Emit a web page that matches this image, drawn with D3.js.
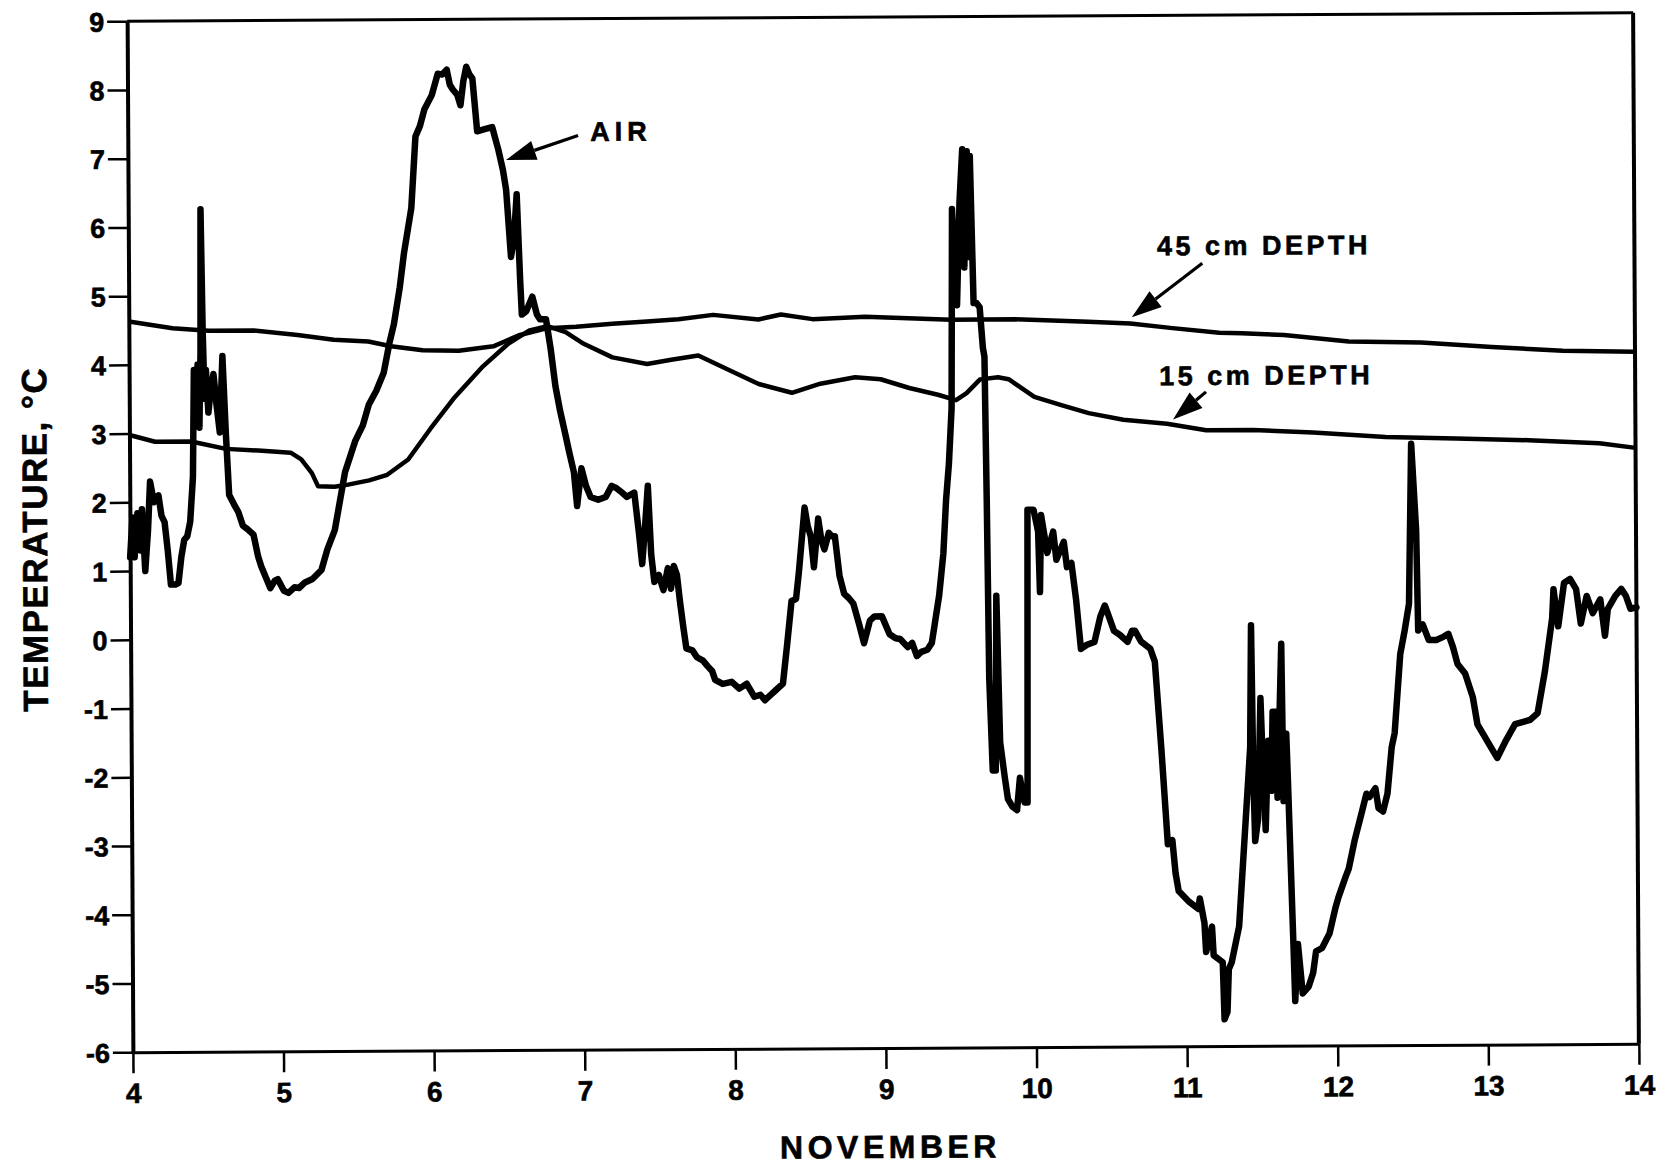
<!DOCTYPE html>
<html>
<head>
<meta charset="utf-8">
<script src="https://cdn.jsdelivr.net/npm/d3@7"></script>
<style>
  html, body { margin: 0; padding: 0; background: #fff; }
  svg { display: block; }
  text { font-family: "Liberation Sans", Arial, Helvetica, sans-serif; font-weight: bold; fill: #000;
         stroke: #000; stroke-width: 0.6px; }
</style>
</head>
<body>
<svg id="chart" width="1660" height="1168"></svg>
<script>
// Axis ticks
const dayTicks = [4, 5, 6, 7, 8, 9, 10, 11, 12, 13, 14];
const tempTicks = [-6, -5, -4, -3, -2, -1, 0, 1, 2, 3, 4, 5, 6, 7, 8, 9];

// Air temperature, [day of November, °C]
const airTemp = [
  [4.00,1.2],[4.017,1.78],[4.03,1.2],[4.05,1.84],[4.07,1.3],[4.08,1.9],[4.10,1.0],[4.12,1.6],
  [4.135,2.30],[4.16,2.0],[4.19,2.10],[4.21,1.8],[4.23,1.71],[4.25,1.3],[4.27,0.80],[4.30,0.80],
  [4.32,0.82],[4.34,1.2],[4.36,1.45],[4.38,1.5],[4.40,1.71],[4.42,2.36],[4.43,3.92],[4.445,3.2],
  [4.455,4.0],[4.465,3.08],[4.475,4.2],[4.48,6.26],[4.49,4.5],[4.50,3.5],[4.51,3.92],[4.525,3.3],
  [4.54,3.60],[4.56,3.86],[4.58,3.4],[4.60,3.01],[4.62,4.12],[4.64,3.0],[4.66,2.10],[4.69,1.97],
  [4.72,1.85],[4.75,1.65],[4.78,1.6],[4.82,1.52],[4.85,1.2],[4.87,1.06],[4.90,0.9],[4.93,0.74],
  [4.96,0.85],[4.98,0.87],[5.02,0.70],[5.05,0.67],[5.09,0.75],[5.12,0.74],[5.16,0.82],[5.21,0.87],
  [5.27,1.0],[5.31,1.3],[5.36,1.58],[5.43,2.42],[5.50,2.88],[5.55,3.1],[5.59,3.40],[5.64,3.6],
  [5.69,3.86],[5.73,4.3],[5.76,4.57],[5.80,5.1],[5.83,5.61],[5.88,6.26],[5.91,7.30],[5.94,7.45],
  [5.97,7.69],[6.02,7.9],[6.06,8.21],[6.09,8.2],[6.12,8.27],[6.14,8.05],[6.16,7.98],[6.19,7.9],
  [6.21,7.75],[6.23,8.1],[6.25,8.31],[6.27,8.2],[6.29,8.14],[6.32,7.37],[6.37,7.40],[6.42,7.43],
  [6.46,7.10],[6.49,6.8],[6.51,6.52],[6.54,5.54],[6.56,5.8],[6.58,6.45],[6.60,5.2],[6.61,4.70],
  [6.64,4.75],[6.68,4.96],[6.71,4.7],[6.73,4.63],[6.77,4.63],[6.80,4.2],[6.83,3.66],[6.86,3.3],
  [6.89,3.0],[6.92,2.69],[6.95,2.4],[6.97,1.91],[7.00,2.46],[7.03,2.2],[7.06,2.04],[7.11,2.0],
  [7.16,2.04],[7.20,2.2],[7.23,2.17],[7.27,2.1],[7.30,2.04],[7.35,2.10],[7.38,1.5],[7.40,1.06],
  [7.42,1.6],[7.44,2.2],[7.46,1.2],[7.48,0.80],[7.51,0.9],[7.54,0.68],[7.57,1.0],[7.59,0.7],
  [7.61,1.03],[7.63,0.9],[7.65,0.5],[7.67,0.15],[7.69,-0.17],[7.73,-0.2],[7.76,-0.30],[7.80,-0.35],
  [7.83,-0.43],[7.86,-0.5],[7.88,-0.63],[7.93,-0.69],[7.99,-0.66],[8.04,-0.76],[8.09,-0.69],[8.14,-0.88],
  [8.18,-0.85],[8.21,-0.93],[8.25,-0.85],[8.28,-0.79],[8.33,-0.69],[8.36,-0.11],[8.39,0.51],[8.42,0.54],
  [8.44,0.93],[8.48,1.87],[8.50,1.6],[8.52,1.45],[8.54,1.0],[8.57,1.71],[8.59,1.4],[8.61,1.26],
  [8.64,1.5],[8.66,1.45],[8.68,1.45],[8.71,0.87],[8.74,0.61],[8.77,0.55],[8.80,0.47],[8.84,0.15],
  [8.87,-0.11],[8.91,0.22],[8.94,0.28],[8.99,0.28],[9.04,0.02],[9.08,-0.04],[9.11,-0.05],[9.16,-0.17],
  [9.19,-0.11],[9.22,-0.30],[9.25,-0.24],[9.29,-0.21],[9.32,-0.11],[9.35,0.3],[9.37,0.57],[9.40,1.19],
  [9.42,1.97],[9.44,2.49],[9.46,3.3],[9.47,6.2],[9.48,5.6],[9.49,6.0],[9.50,4.8],[9.52,6.3],
  [9.54,7.07],[9.55,5.35],[9.56,6.5],[9.57,7.04],[9.58,5.5],[9.59,6.97],[9.61,4.83],[9.63,4.83],
  [9.65,4.77],[9.67,4.18],[9.68,4.05],[9.69,1.97],[9.70,-0.63],[9.72,-1.97],[9.74,-1.97],[9.75,0.57],
  [9.77,-1.56],[9.80,-2.08],[9.82,-2.39],[9.85,-2.5],[9.88,-2.55],[9.90,-2.08],[9.93,-2.44],[9.95,-2.44],
  [9.96,1.82],[10.00,1.82],[10.03,1.5],[10.04,0.62],[10.05,1.74],[10.09,1.19],[10.13,1.5],[10.15,1.09],
  [10.20,1.35],[10.22,0.98],[10.25,1.04],[10.28,0.5],[10.31,-0.21],[10.35,-0.15],[10.40,-0.11],[10.44,0.26],
  [10.47,0.42],[10.49,0.30],[10.53,0.05],[10.57,-0.01],[10.62,-0.11],[10.65,0.05],[10.67,0.05],[10.71,-0.11],
  [10.77,-0.21],[10.80,-0.40],[10.84,-1.66],[10.88,-3.06],[10.91,-3.0],[10.93,-3.48],[10.95,-3.74],[11.02,-3.90],
  [11.08,-4.0],[11.09,-3.85],[11.12,-4.21],[11.13,-4.63],[11.17,-4.26],[11.18,-4.68],[11.24,-4.78],[11.25,-5.61],
  [11.27,-5.5],[11.28,-4.88],[11.30,-4.78],[11.35,-4.26],[11.39,-2.96],[11.43,-1.66],[11.44,0.12],[11.45,-2.08],
  [11.46,-3.02],[11.48,-2.70],[11.50,-0.94],[11.51,-1.66],[11.53,-2.86],[11.55,-1.56],[11.57,-2.29],[11.58,-1.14],
  [11.60,-1.14],[11.61,-2.39],[11.64,-0.15],[11.65,-2.44],[11.67,-1.46],[11.68,-2.18],[11.71,-4.52],[11.72,-5.35],
  [11.74,-4.52],[11.77,-5.24],[11.81,-5.14],[11.84,-4.94],[11.86,-4.63],[11.90,-4.58],[11.95,-4.37],[11.99,-4.0],
  [12.01,-3.85],[12.06,-3.54],[12.08,-3.43],[12.12,-3.02],[12.17,-2.60],[12.20,-2.34],[12.22,-2.39],[12.26,-2.26],
  [12.28,-2.55],[12.31,-2.60],[12.34,-2.34],[12.37,-1.66],[12.39,-1.46],[12.43,-0.31],[12.46,0.03],[12.49,0.42],
  [12.51,2.75],[12.54,1.49],[12.55,0.03],[12.58,0.12],[12.62,-0.11],[12.67,-0.11],[12.72,-0.06],[12.75,-0.02],
  [12.78,-0.21],[12.81,-0.46],[12.86,-0.60],[12.91,-0.94],[12.94,-1.34],[13.03,-1.68],[13.07,-1.83],[13.13,-1.57],
  [13.19,-1.34],[13.29,-1.28],[13.34,-1.18],[13.39,-0.57],[13.44,0.2],[13.45,0.62],[13.48,0.08],[13.52,0.71],
  [13.56,0.77],[13.60,0.62],[13.63,0.12],[13.67,0.52],[13.71,0.27],[13.76,0.47],[13.79,-0.06],[13.81,0.33],
  [13.86,0.52],[13.90,0.62],[13.93,0.52],[13.96,0.33],[14.00,0.35]
];

// Soil temperature at 15 cm depth
const depth15 = [
  [4.00,2.98],[4.17,2.88],[4.41,2.88],[4.64,2.77],[4.88,2.74],[5.07,2.71],[5.14,2.61],[5.21,2.41],
  [5.25,2.22],[5.36,2.21],[5.45,2.24],[5.59,2.30],[5.71,2.38],[5.85,2.60],[6.00,3.05],[6.16,3.50],
  [6.35,3.95],[6.52,4.28],[6.66,4.47],[6.78,4.53],[6.90,4.44],[7.02,4.27],[7.21,4.07],[7.44,3.97],
  [7.60,4.03],[7.78,4.09],[7.99,3.87],[8.18,3.67],[8.40,3.54],[8.59,3.67],[8.82,3.76],[8.99,3.73],
  [9.18,3.60],[9.37,3.50],[9.49,3.42],[9.56,3.52],[9.65,3.72],[9.77,3.75],[9.84,3.72],[10.01,3.46],
  [10.20,3.33],[10.37,3.22],[10.60,3.12],[10.89,3.06],[11.15,2.96],[11.46,2.96],[11.86,2.92],[12.34,2.85],
  [12.81,2.82],[13.29,2.79],[13.76,2.74],[14.00,2.67]
];

// Soil temperature at 45 cm depth
const depth45 = [
  [4.00,4.63],[4.29,4.53],[4.53,4.49],[4.83,4.49],[5.12,4.42],[5.36,4.35],[5.59,4.32],[5.74,4.25],
  [5.95,4.19],[6.19,4.18],[6.42,4.24],[6.59,4.40],[6.78,4.50],[6.97,4.52],[7.21,4.56],[7.44,4.59],
  [7.65,4.62],[7.88,4.68],[8.18,4.61],[8.33,4.68],[8.54,4.61],[8.89,4.64],[9.46,4.59],[9.89,4.59],
  [10.37,4.55],[10.65,4.52],[10.93,4.45],[11.24,4.38],[11.39,4.37],[11.67,4.34],[12.10,4.24],[12.58,4.22],
  [13.05,4.15],[13.52,4.09],[14.00,4.07]
];

// Series labels: text, label anchor (day, °C), arrow tail and arrow tip (day, °C)
const seriesLabels = ["AIR", "45 cm DEPTH", "15 cm DEPTH"];
const labelAnchors = [[7.07, 7.22], [10.83, 5.51], [10.84, 3.62]];
const arrowTails = [[6.99, 7.30], [11.13, 5.39], [11.15, 3.52]];
const arrowTips = [[6.51, 6.95], [10.66, 4.61], [10.93, 3.12]];

const svg = d3.select("#chart");
const W = 1660, H = 1168;
const margin = { left: 130, right: W - 1636, top: 17, bottom: H - 1048 };

const x = d3.scaleLinear().domain([4, 14]).range([margin.left, W - margin.right]);
const y = d3.scaleLinear().domain([-6, 9]).range([H - margin.bottom, margin.top]);

// whole figure sits slightly tilted on the page
const g = svg.append("g").attr("transform", "rotate(-0.32, 883, 532)");

// Frame: top and right edges
g.append("line").attr("x1", x(4)).attr("x2", x(14)).attr("y1", y(9)).attr("y2", y(9))
  .attr("stroke", "#000").attr("stroke-width", 3);
g.append("line").attr("x1", x(14)).attr("x2", x(14)).attr("y1", y(9)).attr("y2", y(-6))
  .attr("stroke", "#000").attr("stroke-width", 4);

// Y axis
const yAxis = g.append("g").attr("transform", `translate(${x(4)},0)`)
  .call(d3.axisLeft(y).tickValues(tempTicks).tickSize(20).tickSizeOuter(0).tickPadding(3)
    .tickFormat(d => String(d)));
yAxis.select(".domain").attr("stroke", "#000").attr("stroke-width", 4);
yAxis.selectAll(".tick line").attr("stroke", "#000").attr("stroke-width", 2.5);
yAxis.selectAll(".tick text").attr("font-size", 27).attr("font-family", null).attr("fill", "#000")
  .attr("dy", "0.36em");

// X axis
const xAxis = g.append("g").attr("transform", `translate(0,${y(-6)})`)
  .call(d3.axisBottom(x).tickValues(dayTicks).tickSize(21).tickSizeOuter(0).tickPadding(10)
    .tickFormat(d => String(d)));
xAxis.select(".domain").attr("stroke", "#000").attr("stroke-width", 3);
xAxis.selectAll(".tick line").attr("stroke", "#000").attr("stroke-width", 2.5);
xAxis.selectAll(".tick text").attr("font-size", 28).attr("font-family", null).attr("fill", "#000");

// Axis titles
g.append("text")
  .attr("transform", `translate(47,${(y(9) + y(-6)) / 2 + 2}) rotate(-90)`)
  .attr("text-anchor", "middle").attr("font-size", 35).attr("letter-spacing", 1.5)
  .text("TEMPERATURE, °C");
g.append("text")
  .attr("x", (x(4) + x(14)) / 2 + 4).attr("y", 1158)
  .attr("text-anchor", "middle").attr("font-size", 32).attr("letter-spacing", 4.5)
  .text("NOVEMBER");

// Series lines
const line = d3.line().x(d => x(d[0])).y(d => y(d[1]));
g.append("path").datum(depth45).attr("d", line)
  .attr("fill", "none").attr("stroke", "#000").attr("stroke-width", 4.5).attr("stroke-linejoin", "round");
g.append("path").datum(depth15).attr("d", line)
  .attr("fill", "none").attr("stroke", "#000").attr("stroke-width", 4.5).attr("stroke-linejoin", "round");
g.append("path").datum(airTemp).attr("d", line)
  .attr("fill", "none").attr("stroke", "#000").attr("stroke-width", 6.5)
  .attr("stroke-linejoin", "round").attr("stroke-linecap", "round");

// Labels with arrows
seriesLabels.forEach((label, i) => {
  const [lx, ly] = labelAnchors[i];
  g.append("text").attr("x", x(lx)).attr("y", y(ly))
    .attr("font-size", 27).attr("letter-spacing", i === 0 ? 5 : 3.5).text(label);

  const tx = x(arrowTails[i][0]), ty = y(arrowTails[i][1]);
  const px = x(arrowTips[i][0]), py = y(arrowTips[i][1]);
  const ang = Math.atan2(py - ty, px - tx);
  const headLen = 30, headHalf = 10;
  const bx = px - headLen * Math.cos(ang), by = py - headLen * Math.sin(ang);
  g.append("line").attr("x1", tx).attr("y1", ty).attr("x2", bx).attr("y2", by)
    .attr("stroke", "#000").attr("stroke-width", 3.2);
  const nx = -Math.sin(ang), ny = Math.cos(ang);
  g.append("polygon")
    .attr("points", [[px, py], [bx + nx * headHalf, by + ny * headHalf], [bx - nx * headHalf, by - ny * headHalf]]
      .map(p => p.join(",")).join(" "))
    .attr("fill", "#000");
});
</script>
</body>
</html>
